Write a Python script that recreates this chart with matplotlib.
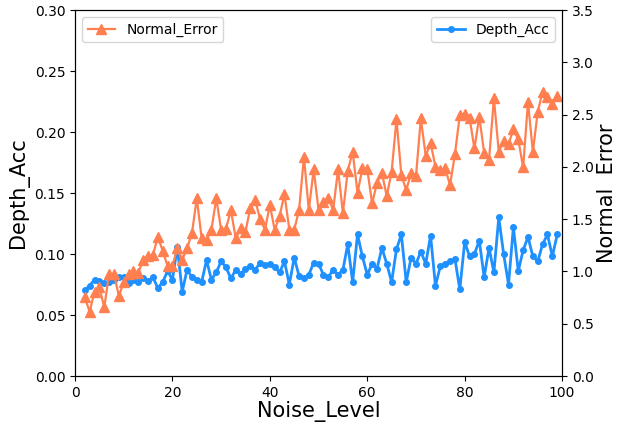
import numpy as np
import matplotlib
matplotlib.use('Agg')
import matplotlib.pyplot as plt

# noise levels 2..99
noise = np.arange(2, 100)

depth_acc = [0.0705, 0.074, 0.079, 0.078, 0.076, 0.077, 0.079, 0.081, 0.081, 0.076,
             0.079, 0.077, 0.080, 0.078, 0.081, 0.072, 0.077, 0.086, 0.079, 0.106,
             0.069, 0.087, 0.081, 0.079, 0.077, 0.095, 0.079, 0.085, 0.094, 0.089,
             0.080, 0.087, 0.0836, 0.088, 0.090, 0.087, 0.093, 0.091, 0.092, 0.089,
             0.085, 0.094, 0.075, 0.097, 0.082, 0.080, 0.083, 0.093, 0.092, 0.083,
             0.081, 0.087, 0.083, 0.087, 0.108, 0.077, 0.116, 0.098, 0.083, 0.092,
             0.088, 0.105, 0.092, 0.077, 0.104, 0.116, 0.077, 0.097, 0.092, 0.102,
             0.092, 0.115, 0.074, 0.090, 0.092, 0.094, 0.096, 0.071, 0.110, 0.098,
             0.100, 0.111, 0.081, 0.105, 0.085, 0.130, 0.100, 0.075, 0.122, 0.086,
             0.103, 0.114, 0.098, 0.094, 0.108, 0.116, 0.098, 0.116]

normal_err = [0.752, 0.615, 0.806, 0.848, 0.657, 0.975, 0.975, 0.765, 0.90, 0.98,
              1.007, 0.988, 1.11, 1.147, 1.157, 1.332, 1.198, 1.052, 1.052, 1.22,
              1.11, 1.22, 1.364, 1.70, 1.316, 1.30, 1.396, 1.70, 1.396, 1.41,
              1.587, 1.316, 1.42, 1.38, 1.61, 1.68, 1.50, 1.40, 1.635, 1.396,
              1.53, 1.74, 1.40, 1.40, 1.587, 2.097, 1.587, 1.976, 1.587, 1.666,
              1.705, 1.587, 1.976, 1.56, 1.963, 2.144, 1.752, 1.985, 1.976, 1.65,
              1.848, 1.944, 1.72, 1.953, 2.454, 1.92, 1.778, 1.938, 1.912, 2.463,
              2.103, 2.23, 2.00, 1.97, 1.985, 1.826, 2.122, 2.495, 2.51, 2.47,
              2.176, 2.48, 2.135, 2.065, 2.655, 2.144, 2.25, 2.218, 2.358, 2.263,
              1.995, 2.62, 2.144, 2.527, 2.718, 2.67, 2.60, 2.677]

fig = plt.figure(figsize=(6.17, 4.24), dpi=100)
ax = fig.add_axes([0.1216, 0.1132, 0.7894, 0.8632])

ax.plot(noise, depth_acc, color='dodgerblue', marker='o', markersize=4,
        linewidth=2, label='Depth_Acc')
ax.set_xlim(0, 100)
ax.set_ylim(0, 0.30)
ax.set_yticks(np.arange(0, 0.31, 0.05))
ax.set_yticklabels(['%.2f' % v for v in np.arange(0, 0.31, 0.05)])
ax.set_xlabel('Noise_Level', fontsize=15, labelpad=1)
ax.set_ylabel('Depth_Acc', fontsize=15)
ax.legend(loc='upper right')

ax2 = ax.twinx()
ax2.plot(noise, normal_err, color='coral', marker='^', markersize=7.5,
         linewidth=1.6, label='Normal_Error')
ax2.set_ylim(0, 3.5)
ax2.set_ylabel('Normal  Error', fontsize=15, labelpad=2)
ax2.legend(loc='upper left')

plt.savefig('out.png', dpi=100)
